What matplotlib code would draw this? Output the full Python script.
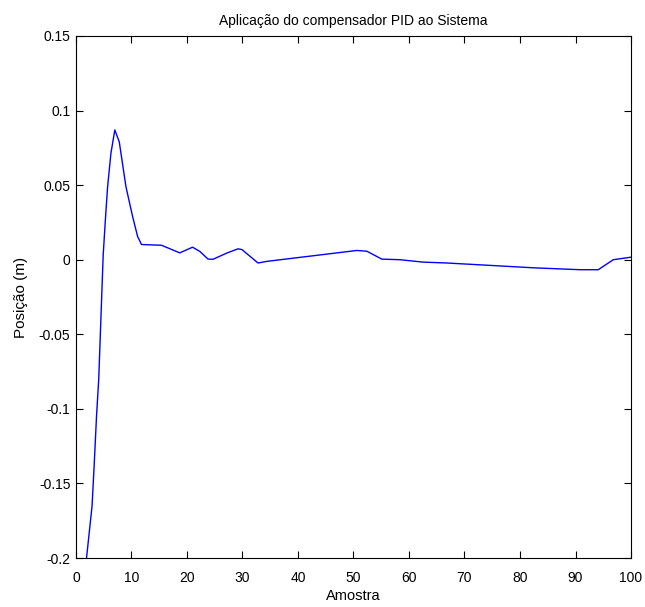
import matplotlib
matplotlib.use("Agg")
import matplotlib.pyplot as plt

# Sample index and measured position of the controlled system
amostra = [1.0, 1.9, 2.9, 3.3, 3.7, 4.1, 4.9, 5.3, 5.7, 6.3, 7.0, 7.8, 9.0,
           10.2, 11.1, 11.8, 15.4, 18.7, 21.0, 22.3, 23.8, 24.7, 27.2, 29.2,
           29.9, 32.8, 34.4, 50.6, 52.4, 55.1, 58.4, 62.5, 66.8, 74.6, 82.3,
           90.8, 94.1, 96.8, 100.0]
posicao = [-0.232, -0.200, -0.165, -0.136, -0.105, -0.080, 0.003, 0.027,
           0.049, 0.0715, 0.087, 0.079, 0.049, 0.029, 0.0156, 0.0102, 0.0097,
           0.0046, 0.0084, 0.0056, 0.0004, 0.0003, 0.0045, 0.0073, 0.0068,
           -0.0022, -0.0011, 0.0062, 0.0057, 0.0004, 0.0000, -0.0016, -0.0022,
           -0.0038, -0.0054, -0.0067, -0.0067, 0.0000, 0.0017]

xticks = list(range(0, 101, 10))
yticks = [-0.2, -0.15, -0.1, -0.05, 0, 0.05, 0.1, 0.15]
ytick_labels = ["-0.2", "-0.15", "-0.1", "-0.05", "0", "0.05", "0.1", "0.15"]

plt.rcParams["font.family"] = ["Liberation Sans", "DejaVu Sans"]
plt.rcParams["font.size"] = 10

fig = plt.figure(figsize=(6.45, 6.07), dpi=100)
ax = fig.add_axes([0.1178, 0.0807, 0.8605, 0.86])

ax.plot(amostra, posicao, color=(0, 0, 1), linewidth=1.0)

ax.set_xlim(0, 100)
ax.set_ylim(-0.2, 0.15)
ax.set_xticks(xticks)
ax.set_xticklabels([str(t) for t in xticks])
ax.set_yticks(yticks)
ax.set_yticklabels(ytick_labels)
ax.tick_params(direction="in", top=True, right=True, length=5, width=0.8,
               colors="black")
ax.tick_params(axis="x", pad=9)
ax.tick_params(axis="y", pad=4)
for s in ax.spines.values():
    s.set_linewidth(0.8)

ax.set_title("Aplicação do compensador PID ao Sistema", fontsize=10, pad=8)
ax.set_xlabel("Amostra", fontsize=10.5, labelpad=3)
ax.set_ylabel("Posição (m)", fontsize=11, labelpad=8)

fig.savefig("out.png", dpi=100)
